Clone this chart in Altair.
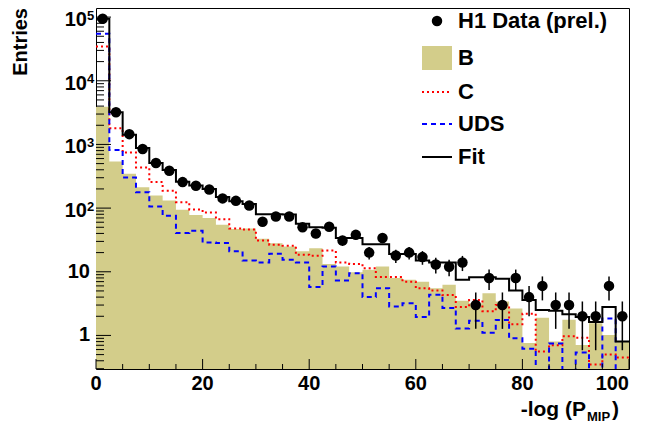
import altair as alt
import pandas as pd
import numpy as np

FONT = "Liberation Sans"
OLIVE = "#d3cd8a"

BIN_W = 2.5
data_counts = [94000, 3200, 1450, 850, 510, 385, 256, 224, 196, 142,
               130, 110, 61, 74, 74, 50, 40, 51, 31, 38,
               20, 34, 18, 20, 17, 13, 12, 14, 3, 8,
               3, 8, 4, 6, 3, 3, 2, 2, 6, 2]
b_vals = [3900, 540, 345, 213, 158, 132, 94, 78, 70, 55,
          47, 48, 33, 28, 25, 21, 23.5, 13.3, 12.1, 9.8,
          10.8, 12.1, 8, 7.5, 7, 5.5, 6.25, 3.5, 3.2, 4.6,
          3.4, 2.65, 0.76, 1.9, 0.8, 1.76, 0.71, 1.55, 1.02, 0.79]
c_vals = [34500, 1800, 745, 435, 257, 187, 124, 95, 85, 67,
          48, 46, 31, 26.5, 25.6, 18.5, 17.8, 21.6, 14, 13.3,
          11.4, 8.3, 8.3, 7.0, 5.5, 5.1, 4.3, 2.8, 3.6, 2.4,
          3.0, 1.5, 2.2, 0.56, 0.7, 0.97, 0.92, 0.35, 0.5, 0.45]
uds_vals = [55000, 815, 302, 178, 106, 76, 40.5, 44, 28.8, 28.2,
            21, 15, 14, 19.2, 15.4, 14, 5.75, 12.1, 7.3, 9.5,
            4.0, 5.5, 2.85, 3.2, 1.94, 4.35, 2.7, 1.28, 1.7, 1.1,
            1.75, 0.9, 0.62, 0.1, 0.75, 0.1, 0.54, 0.1, 1.85, 0.1]
fit_vals = [94000, 3200, 1420, 880, 510, 395, 260, 226, 200, 150,
            128, 116, 80, 80, 79, 57, 50, 49, 34, 34,
            27, 27, 19, 19, 15, 14, 14, 7.5, 8.2, 8.2,
            7.8, 5.1, 3.6, 2.5, 2.45, 2.15, 1.95, 1.63, 2.8, 0.8]

x_major = [0, 20, 40, 60, 80, 100]
x_labels = ["0", "20", "40", "60", "80", "100"]
x_minor = [5, 10, 15, 25, 30, 35, 45, 50, 55, 65, 70, 75, 85, 90, 95]
y_major = [1, 10, 100, 1000, 10000, 100000]
y_plain_labels = ["1", "10"]
y_pow_exps = ["2", "3", "4", "5"]

W, H = 533, 361
YMIN, YMAX = 0.297, 1.39e5

xs = alt.Scale(domain=[0, 100], nice=False, zero=False)
ys = alt.Scale(type="log", domain=[YMIN, YMAX], nice=False)

edges = [i * BIN_W for i in range(len(b_vals) + 1)]
bins = pd.DataFrame({
    "center": [e + BIN_W / 2 for e in edges[:-1]],
    "N": data_counts,
})
bins["elo"] = bins["N"] - np.sqrt(bins["N"])
bins["ehi"] = bins["N"] + np.sqrt(bins["N"])


def X(field):
    return alt.X(field, scale=xs, axis=None)


def Y(field):
    return alt.Y(field, scale=ys, axis=None)


def step_df(vals):
    return pd.DataFrame({"x": edges, "y": list(vals) + [vals[-1]]})


def step_line(vals, color, width, dash=None):
    mk = dict(interpolate="step-after", color=color, strokeWidth=width, clip=True)
    if dash:
        mk["strokeDash"] = dash
    return alt.Chart(step_df(vals)).mark_line(**mk).encode(x=X("x:Q"), y=Y("y:Q"))


one = pd.DataFrame({"a": [0]})

layers = []
layers.append(alt.Chart(step_df(b_vals)).mark_area(
    interpolate="step-after", color=OLIVE, opacity=1, clip=True).encode(
    x=X("x:Q"), y=Y("y:Q"), y2=alt.datum(YMIN)))
layers.append(step_line(c_vals, "#ff0000", 2, [2, 3]))
layers.append(step_line(uds_vals, "#0000ff", 2, [5, 4]))
layers.append(step_line(fit_vals, "black", 2))
layers.append(alt.Chart(bins).mark_rule(color="black", strokeWidth=1.5, clip=True).encode(
    x=X("center:Q"), y=Y("elo:Q"), y2="ehi:Q"))
layers.append(alt.Chart(bins).mark_point(filled=True, shape="circle", size=110,
                                         color="black", opacity=1, clip=True).encode(
    x=X("center:Q"), y=Y("N:Q")))

# inward ticks
xmaj = pd.DataFrame({"v": x_major, "t": x_labels})
xmin = pd.DataFrame({"v": x_minor})
layers.append(alt.Chart(xmaj).mark_rule(color="black", strokeWidth=1).encode(
    x=X("v:Q"), y=alt.value(H), y2=alt.value(H - 10)))
layers.append(alt.Chart(xmin).mark_rule(color="black", strokeWidth=1).encode(
    x=X("v:Q"), y=alt.value(H), y2=alt.value(H - 5)))
y_minor = [m * 10.0 ** k for k in range(-1, 6) for m in range(2, 10)
           if YMIN <= m * 10.0 ** k <= YMAX]
ymaj = pd.DataFrame({"v": y_major})
ymin_df = pd.DataFrame({"v": y_minor})
layers.append(alt.Chart(ymaj).mark_rule(color="black", strokeWidth=1).encode(
    y=Y("v:Q"), x=alt.value(0), x2=alt.value(15)))
layers.append(alt.Chart(ymin_df).mark_rule(color="black", strokeWidth=1).encode(
    y=Y("v:Q"), x=alt.value(0), x2=alt.value(8)))

# x labels (last one right-aligned so that it stays inside the page)
layers.append(alt.Chart(xmaj.iloc[:-1]).mark_text(font=FONT, fontWeight="bold", fontSize=20,
                                                  align="center", baseline="top", color="black").encode(
    x=X("v:Q"), y=alt.value(H + 5), text="t:N"))
layers.append(alt.Chart(xmaj.iloc[-1:]).mark_text(font=FONT, fontWeight="bold", fontSize=20,
                                                  align="right", baseline="top", color="black").encode(
    x=X("v:Q"), y=alt.value(H + 5), text="t:N"))

# y labels
plain = pd.DataFrame({"v": y_major[:2], "t": y_plain_labels})
powers = pd.DataFrame({"v": y_major[2:], "e": y_pow_exps})
layers.append(alt.Chart(plain).mark_text(font=FONT, fontWeight="bold", fontSize=20,
                                         align="right", baseline="middle", color="black").encode(
    y=Y("v:Q"), x=alt.value(-6), text="t:N"))
layers.append(alt.Chart(powers).mark_text(font=FONT, fontWeight="bold", fontSize=20,
                                          align="right", baseline="middle", color="black", dy=3).encode(
    y=Y("v:Q"), x=alt.value(-9), text=alt.value("10")))
layers.append(alt.Chart(powers).mark_text(font=FONT, fontWeight="bold", fontSize=13,
                                          align="left", baseline="middle", color="black", dy=-1.5).encode(
    y=Y("v:Q"), x=alt.value(-9), text="e:N"))

# axis titles
layers.append(alt.Chart(one).mark_text(font=FONT, fontWeight="bold", fontSize=20, angle=270,
                                       align="right", baseline="middle", color="black").encode(
    x=alt.value(-75), y=alt.value(0), text=alt.value("Entries")))
layers.append(alt.Chart(one).mark_text(font=FONT, fontWeight="bold", fontSize=21,
                                       align="right", baseline="alphabetic", color="black").encode(
    x=alt.value(490), y=alt.value(408), text=alt.value("-log (P")))
layers.append(alt.Chart(one).mark_text(font=FONT, fontWeight="bold", fontSize=13,
                                       align="left", baseline="alphabetic", color="black").encode(
    x=alt.value(491), y=alt.value(413), text=alt.value("MIP")))
layers.append(alt.Chart(one).mark_text(font=FONT, fontWeight="bold", fontSize=21,
                                       align="left", baseline="alphabetic", color="black").encode(
    x=alt.value(516), y=alt.value(408), text=alt.value(")")))

# legend
LX0, LX1, TX = 326, 356, 362
layers.append(alt.Chart(one).mark_point(filled=True, shape="circle", size=110, color="black",
                                        opacity=1).encode(
    x=alt.value(341), y=alt.value(13)))
layers.append(alt.Chart(one).mark_rect(color=OLIVE).encode(
    x=alt.value(LX0), x2=alt.value(LX1), y=alt.value(38), y2=alt.value(62)))
layers.append(alt.Chart(one).mark_rule(color="#ff0000", strokeWidth=2, strokeDash=[2, 3]).encode(
    x=alt.value(LX0), x2=alt.value(LX1), y=alt.value(84)))
layers.append(alt.Chart(one).mark_rule(color="#0000ff", strokeWidth=2, strokeDash=[5, 4]).encode(
    x=alt.value(LX0), x2=alt.value(LX1), y=alt.value(116)))
layers.append(alt.Chart(one).mark_rule(color="black", strokeWidth=2).encode(
    x=alt.value(LX0), x2=alt.value(LX1), y=alt.value(149)))
legend_texts = [("H1 Data (prel.)", 13), ("B", 50), ("C", 84), ("UDS", 116), ("Fit", 149)]
for t, yy in legend_texts:
    layers.append(alt.Chart(one).mark_text(font=FONT, fontWeight="bold", fontSize=22,
                                           align="left", baseline="middle", color="black").encode(
        x=alt.value(TX), y=alt.value(yy), text=alt.value(t)))

chart = alt.layer(*layers).properties(
    width=W, height=H,
    padding={"left": 88, "top": 0, "right": 1, "bottom": 55},
    autosize=alt.AutoSizeParams(type="none"),
).configure_view(stroke="black", strokeWidth=1)

chart.save("out.html", embed_options={"renderer": "svg", "actions": False})
